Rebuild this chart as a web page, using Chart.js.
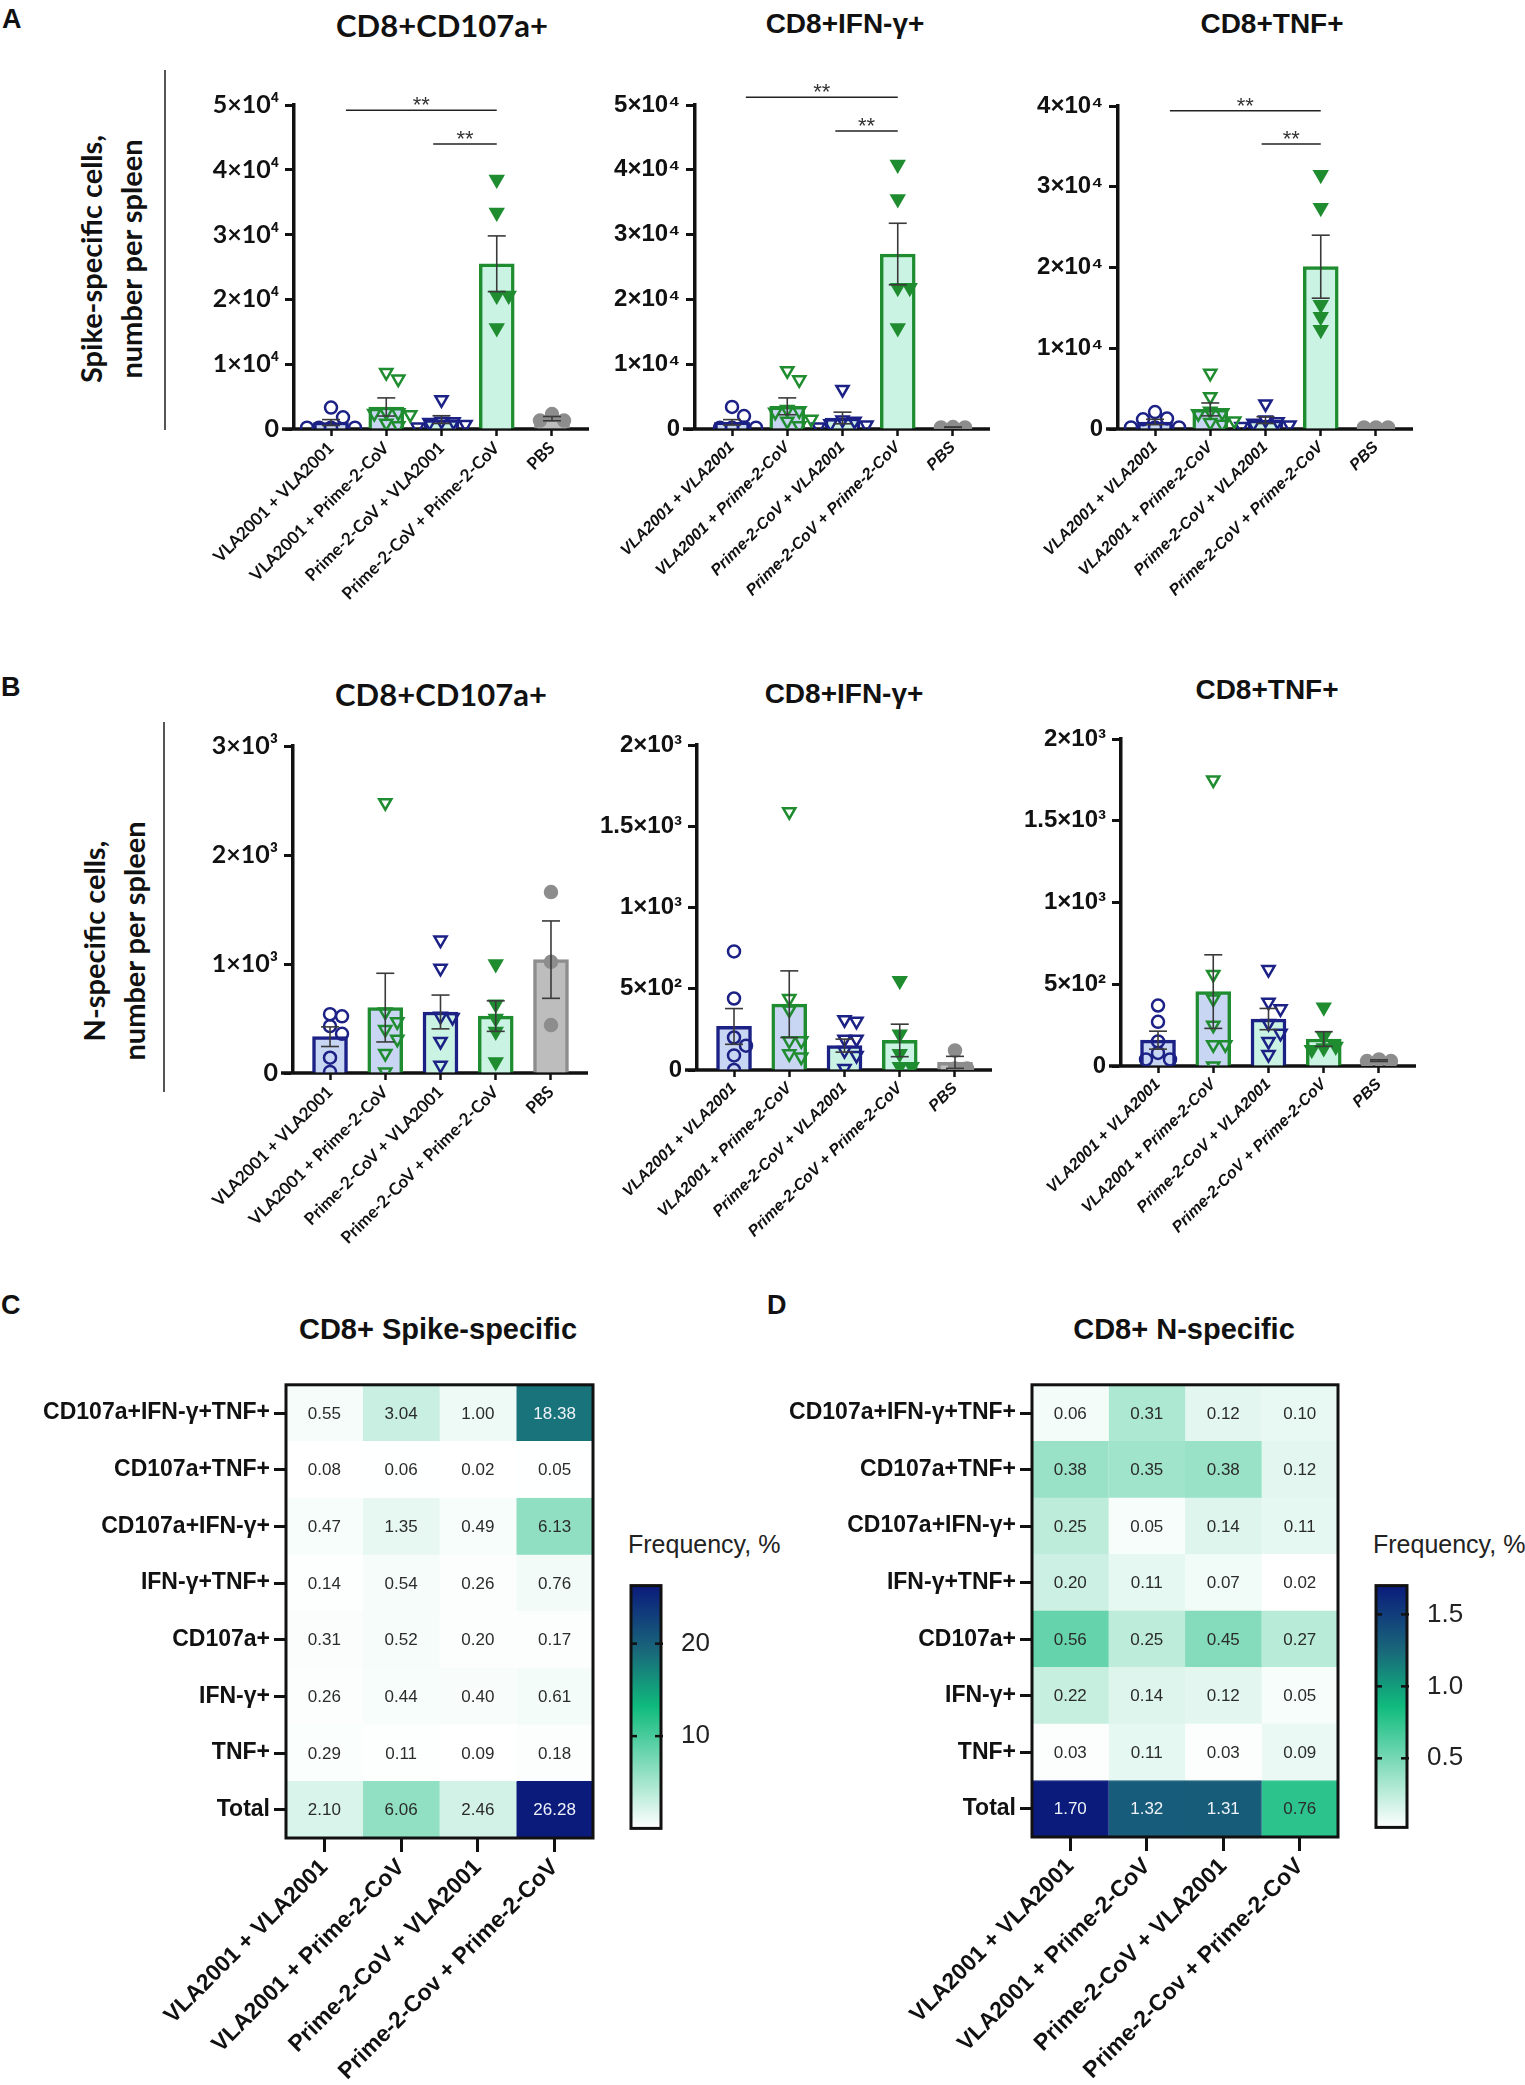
<!DOCTYPE html>
<html lang="en">
<head>
<meta charset="UTF-8">
<script src="https://cdn.jsdelivr.net/npm/chart.js"></script>
<title>CD8+ responses</title>
<style>
  body { margin: 0; background: #fff; }
  #page { position: relative; width: 1525px; height: 2085px; overflow: hidden; background: #fff; }
  canvas { position: absolute; }
  .t { position: absolute; white-space: nowrap; color: #111; }
  .letter { font: bold 27px "Liberation Sans", Arial, sans-serif; }
  .ctr { transform: translate(-50%, -50%); }
  .ytitle { transform: translate(-50%, -50%) rotate(-90deg); text-align: center;
            font: bold 29px "Lato", "Open Sans", sans-serif; line-height: 40px; }
  .sep { position: absolute; width: 1.5px; background: #555; }
</style>
</head>
<body>
<div id="page">
  <div class="t letter" style="left:2px; top:4px;">A</div>
  <div class="t letter" style="left:1px; top:672px;">B</div>
  <div class="t letter" style="left:1px; top:1290px;">C</div>
  <div class="t letter" style="left:767px; top:1290px;">D</div>

  <div class="t ytitle" style="left:111px; top:259px;">Spike-specific cells,<br>number per spleen</div>
  <div class="t ytitle" style="left:114px; top:941px;">N-specific cells,<br>number per spleen</div>
  <div class="sep" style="left:164px; top:70px; height:360px;"></div>
  <div class="sep" style="left:163px; top:722px; height:370px;"></div>

  <div class="t ctr" style="left:442px; top:25px; font:bold 31px Lato, sans-serif;">CD8+CD107a+</div>
  <div class="t ctr" style="left:845px; top:24px; font:bold 28px 'Liberation Sans', Arial, sans-serif;">CD8+IFN-γ+</div>
  <div class="t ctr" style="left:1272px; top:24px; font:bold 28px 'Liberation Sans', Arial, sans-serif;">CD8+TNF+</div>
  <div class="t ctr" style="left:441px; top:694px; font:bold 31px Lato, sans-serif;">CD8+CD107a+</div>
  <div class="t ctr" style="left:844px; top:694px; font:bold 28px 'Liberation Sans', Arial, sans-serif;">CD8+IFN-γ+</div>
  <div class="t ctr" style="left:1267px; top:690px; font:bold 28px 'Liberation Sans', Arial, sans-serif;">CD8+TNF+</div>

  <div class="t ctr" style="left:438px; top:1329px; font:bold 29px 'Liberation Sans', Arial, sans-serif;">CD8+ Spike-specific</div>
  <div class="t ctr" style="left:1184px; top:1329px; font:bold 29px 'Liberation Sans', Arial, sans-serif;">CD8+ N-specific</div>
  <div class="t" style="left:628px; top:1530px; font:25px 'Liberation Sans', Arial, sans-serif; color:#222;">Frequency, %</div>
  <div class="t" style="left:1373px; top:1530px; font:25px 'Liberation Sans', Arial, sans-serif; color:#222;">Frequency, %</div>
</div>

<script>
// ---------- data ----------
const groups = ['VLA2001 + VLA2001', 'VLA2001 + Prime-2-CoV', 'Prime-2-CoV + VLA2001', 'Prime-2-CoV + Prime-2-CoV', 'PBS'];

// A: spike-specific, number per spleen
const a1Mean = [1000, 3400, 1450, 25500, 1600];
const a1Sem  = [450, 1400, 600, 4300, 330];
const a1Pts  = [
  [3300, 1800, 200, 200, 200, 200],
  [8700, 7700, 2600, 2500, 2400, 2200, 900, 500],
  [4500, 1200, 1100, 1000, 700, 300],
  [38500, 33400, 20600, 20600, 15600],
  [2300, 1300, 1300]
];
const a1Sig = [[0.27, 3, 49200], [1.85, 3, 44000]];

const a2Mean = [1030, 3500, 1700, 27000, 270];
const a2Sem  = [420, 1300, 900, 4750, 20];
const a2Pts  = [
  [3400, 2000, 200, 200, 200, 200],
  [9000, 7600, 3000, 2800, 2600, 1500, 1200, 500],
  [6100, 1400, 1200, 800, 600, 300],
  [40800, 35500, 21800, 21800, 15600],
  [300, 250, 250]
];
const a2Sig = [[0.25, 3, 51200], [1.87, 3, 46000]];

const a3Mean = [870, 2425, 1100, 20100, 200];
const a3Sem  = [330, 800, 420, 3900, 0];
const a3Pts  = [
  [2100, 1300, 1200, 200, 200, 200],
  [6900, 4000, 2200, 2000, 1900, 1000, 800, 600],
  [3100, 1100, 900, 700, 500, 300],
  [31500, 27400, 15400, 13900, 12300],
  [200, 200, 200]
];
const a3Sig = [[0.27, 3, 39400], [1.93, 3, 35300]];

const a12TickVals = [0, 10000, 20000, 30000, 40000, 50000];
const a12TickLabels = ['0', '1×10⁴', '2×10⁴', '3×10⁴', '4×10⁴', '5×10⁴'];
const a3TickVals = [0, 10000, 20000, 30000, 40000];
const a3TickLabels = ['0', '1×10⁴', '2×10⁴', '3×10⁴', '4×10⁴'];

// B: N-specific, number per spleen
const b1Mean = [333, 600, 560, 522, 1040];
const b1Sem  = [90, 315, 155, 140, 355];
const b1Pts  = [
  [540, 520, 430, 360, 140, 10],
  [2480, 560, 470, 400, 310, 180, 10],
  [1220, 960, 520, 510, 290, 70],
  [1000, 630, 500, 380, 100],
  [1660, 1020, 440]
];

const b2Mean = [268, 405, 150, 182, 47];
const b2Sem  = [110, 205, 40, 100, 37];
const b2Pts  = [
  [730, 440, 200, 150, 90, 0],
  [1590, 440, 370, 180, 180, 100, 80],
  [310, 300, 190, 190, 120, 90, 10],
  [550, 220, 100, 20, 20],
  [120, 10, 10]
];

const b3Mean = [158, 455, 287, 165, 33];
const b3Sem  = [55, 225, 65, 45, 5];
const b3Pts  = [
  [370, 270, 150, 80, 40, 40],
  [1750, 560, 410, 250, 130, 130, 0],
  [590, 390, 350, 260, 200, 150, 70],
  [360, 180, 120, 110, 100],
  [40, 30, 30]
];

const b1TickVals = [0, 1000, 2000, 3000];
const b1TickLabels = ['0', '1×10³', '2×10³', '3×10³'];
const b23TickVals = [0, 500, 1000, 1500, 2000];
const b23TickLabels = ['0', '5×10²', '1×10³', '1.5×10³', '2×10³'];

// C / D: frequency heatmaps
const hmRows = ['CD107a+IFN-γ+TNF+', 'CD107a+TNF+', 'CD107a+IFN-γ+', 'IFN-γ+TNF+', 'CD107a+', 'IFN-γ+', 'TNF+', 'Total'];
const hmCols = ['VLA2001 + VLA2001', 'VLA2001 + Prime-2-CoV', 'Prime-2-CoV + VLA2001', 'Prime-2-Cov + Prime-2-CoV'];
const spikeFreq = [
  [0.55, 3.04, 1.00, 18.38],
  [0.08, 0.06, 0.02, 0.05],
  [0.47, 1.35, 0.49, 6.13],
  [0.14, 0.54, 0.26, 0.76],
  [0.31, 0.52, 0.20, 0.17],
  [0.26, 0.44, 0.40, 0.61],
  [0.29, 0.11, 0.09, 0.18],
  [2.10, 6.06, 2.46, 26.28]
];
const nFreq = [
  [0.06, 0.31, 0.12, 0.10],
  [0.38, 0.35, 0.38, 0.12],
  [0.25, 0.05, 0.14, 0.11],
  [0.20, 0.11, 0.07, 0.02],
  [0.56, 0.25, 0.45, 0.27],
  [0.22, 0.14, 0.12, 0.05],
  [0.03, 0.11, 0.03, 0.09],
  [1.70, 1.32, 1.31, 0.76]
];
const spikeBarTicks = [10, 20];
const spikeBarLabels = ['10', '20'];
const nBarTicks = [0.5, 1.0, 1.5];
const nBarLabels = ['0.5', '1.0', '1.5'];

// ---------- styles ----------
const navy = '#1c2186', green = '#1f8c30', gray = '#8d8d8d';
const barFill = ['#c8d6f3', '#c8d6f3', '#caf3e4', '#caf3e4', '#bdbdbd'];
const barEdge = [navy, green, navy, green, gray];
const markers = [
  { style: 'circle', rot: 0, edge: navy, fill: 'rgba(0,0,0,0)', r: 6 },
  { style: 'triangle', rot: 180, edge: green, fill: 'rgba(0,0,0,0)', r: 7 },
  { style: 'triangle', rot: 180, edge: navy, fill: 'rgba(0,0,0,0)', r: 7 },
  { style: 'triangle', rot: 180, edge: green, fill: green, r: 7 },
  { style: 'circle', rot: 0, edge: gray, fill: gray, r: 6 }
];
const latoFont = '"Lato", "Open Sans", sans-serif';
const libFont = '"Liberation Sans", Arial, sans-serif';
Chart.defaults.color = '#111';

const page = document.getElementById('page');
function addCanvas(left, top, w, h) {
  const c = document.createElement('canvas');
  c.width = w; c.height = h;
  c.style.left = left + 'px'; c.style.top = top + 'px';
  c.style.width = w + 'px'; c.style.height = h + 'px';
  page.appendChild(c);
  return c;
}

// spread points that would overlap, like a column scatter
const X_MIN = -0.67, X_MAX = 4.67, PLOT_W = 295;
function swarm(values, pxPerUnit) {
  const placed = [];
  const step = 12, diam = 11;
  values.slice().sort((a, b) => b - a).forEach(v => {
    const py = v * pxPerUnit;
    for (let k = 0; k < 30; k++) {
      const dx = k === 0 ? 0 : Math.ceil(k / 2) * step * (k % 2 ? 1 : -1);
      if (placed.every(p => Math.hypot(p.dx - dx, p.py - py) >= diam)) { placed.push({ dx, py, v }); break; }
    }
  });
  const unit = PLOT_W / (X_MAX - X_MIN);
  return placed.map(p => ({ dx: p.dx / unit, v: p.v }));
}

const extrasPlugin = {
  id: 'extras',
  beforeDatasetsDraw(chart) {
    const { ctx, chartArea, scales: { y } } = chart;
    const y0 = y.getPixelForValue(0);
    ctx.save();
    ctx.strokeStyle = '#111'; ctx.lineWidth = 3.5;
    ctx.beginPath(); ctx.moveTo(chartArea.left - 12, y0); ctx.lineTo(chartArea.right, y0); ctx.stroke();
    ctx.restore();
  },
  afterDatasetsDraw(chart, args, opts) {
    const { ctx, scales: { x, y } } = chart;
    const seg = (x1, y1, x2, y2) => { ctx.beginPath(); ctx.moveTo(x1, y1); ctx.lineTo(x2, y2); ctx.stroke(); };
    ctx.save();
    ctx.strokeStyle = '#3a3a3a'; ctx.lineWidth = 1.6;
    opts.mean.forEach((m, i) => {
      const s = opts.sem[i];
      if (!s) return;
      const px = x.getPixelForValue(i);
      const top = y.getPixelForValue(m + s), bot = y.getPixelForValue(Math.max(0, m - s));
      seg(px, top, px, bot); seg(px - 9, top, px + 9, top); seg(px - 9, bot, px + 9, bot);
    });
    ctx.strokeStyle = '#222'; ctx.lineWidth = 1.5;
    ctx.fillStyle = '#333'; ctx.font = '22px ' + libFont;
    ctx.textAlign = 'center'; ctx.textBaseline = 'alphabetic';
    (opts.sig || []).forEach(([a, b, v]) => {
      const x1 = x.getPixelForValue(a), x2 = x.getPixelForValue(b), py = y.getPixelForValue(v);
      seg(x1, py, x2, py);
      ctx.fillText('**', (x1 + x2) / 2, py + 2);
    });
    ctx.restore();
  }
};

function barChart(cfg) {
  const L = 120, T = 75, B = 200, R = 12;
  const plotH = cfg.yZero - cfg.yTop;
  const yMax = cfg.tickVals[cfg.tickVals.length - 1];
  const cv = addCanvas(cfg.x0 - L, cfg.yTop - T, L + PLOT_W + R, T + plotH + B);
  const tickFont = { family: cfg.font, size: cfg.font === latoFont ? 25 : 24, weight: 'bold' };
  const catFont = { family: cfg.font, size: cfg.font === latoFont ? 17 : 16, weight: 'bold',
                    style: cfg.font === latoFont ? 'normal' : 'italic' };

  const datasets = [{
    type: 'bar',
    data: cfg.mean.map((m, i) => ({ x: i, y: m })),
    backgroundColor: barFill, borderColor: barEdge, borderWidth: 3.5,
    barThickness: 35, order: 3
  }];
  cfg.pts.forEach((vals, i) => {
    const mk = markers[i];
    datasets.push({
      type: 'scatter',
      data: swarm(vals, plotH / yMax).map(p => ({ x: i + p.dx, y: p.v })),
      pointStyle: mk.style, rotation: mk.rot, pointRadius: mk.r,
      borderColor: mk.edge, backgroundColor: mk.fill, borderWidth: 2.5, order: 1
    });
  });

  return new Chart(cv, {
    type: 'bar',
    data: { datasets },
    options: {
      responsive: false, animation: false, devicePixelRatio: 1,
      layout: { padding: { top: T, right: R, left: 0, bottom: 0 } },
      plugins: { legend: { display: false }, tooltip: { enabled: false },
                 extras: { mean: cfg.mean, sem: cfg.sem, sig: cfg.sig } },
      scales: {
        x: {
          type: 'linear', min: X_MIN, max: X_MAX, offset: false,
          afterBuildTicks: s => { s.ticks = groups.map((g, i) => ({ value: i })); },
          afterFit: s => { s.height = B; },
          ticks: { callback: v => groups[v], minRotation: 45, maxRotation: 45, autoSkip: false,
                   font: catFont, color: '#111', padding: 2 },
          grid: { offset: false, drawOnChartArea: false, tickLength: 7, tickWidth: 2.5, tickColor: '#111' },
          border: { display: false }
        },
        y: {
          min: 0, max: yMax,
          afterBuildTicks: s => { s.ticks = cfg.tickVals.map(v => ({ value: v })); },
          afterFit: s => { s.width = L; },
          ticks: { callback: (v, i) => cfg.tickLabels[i], font: tickFont, color: '#111', padding: 6 },
          grid: { drawOnChartArea: false, tickLength: 9, tickWidth: 3, tickColor: '#111' },
          border: { display: true, width: 3.5, color: '#111' }
        }
      }
    },
    plugins: [extrasPlugin]
  });
}

barChart({ x0: 294, yTop: 105, yZero: 429, mean: a1Mean, sem: a1Sem, pts: a1Pts, sig: a1Sig,
           tickVals: a12TickVals, tickLabels: a12TickLabels, font: latoFont });
barChart({ x0: 695, yTop: 105, yZero: 429, mean: a2Mean, sem: a2Sem, pts: a2Pts, sig: a2Sig,
           tickVals: a12TickVals, tickLabels: a12TickLabels, font: libFont });
barChart({ x0: 1118, yTop: 106, yZero: 429, mean: a3Mean, sem: a3Sem, pts: a3Pts, sig: a3Sig,
           tickVals: a3TickVals, tickLabels: a3TickLabels, font: libFont });
barChart({ x0: 293, yTop: 746, yZero: 1073, mean: b1Mean, sem: b1Sem, pts: b1Pts,
           tickVals: b1TickVals, tickLabels: b1TickLabels, font: latoFont });
barChart({ x0: 697, yTop: 745, yZero: 1070, mean: b2Mean, sem: b2Sem, pts: b2Pts,
           tickVals: b23TickVals, tickLabels: b23TickLabels, font: libFont });
barChart({ x0: 1121, yTop: 739, yZero: 1066, mean: b3Mean, sem: b3Sem, pts: b3Pts,
           tickVals: b23TickVals, tickLabels: b23TickLabels, font: libFont });

// ---------- heatmaps ----------
const cmapStops = [[0, [255, 255, 255]], [0.5, [16, 187, 125]], [0.73, [25, 104, 122]], [1, [11, 27, 124]]];
function cmap(t) {
  t = Math.max(0, Math.min(1, t));
  for (let k = 1; k < cmapStops.length; k++) {
    const [t1, c1] = cmapStops[k];
    const [t0, c0] = cmapStops[k - 1];
    if (t <= t1) {
      const f = (t - t0) / (t1 - t0);
      return 'rgb(' + c0.map((c, j) => Math.round(c + (c1[j] - c) * f)).join(',') + ')';
    }
  }
}

const boxPlugin = {
  id: 'box',
  afterDraw(chart, args, opts) {
    const { ctx, chartArea: a } = chart;
    ctx.save();
    ctx.strokeStyle = '#111'; ctx.lineWidth = 3;
    ctx.strokeRect(a.left, a.top, a.right - a.left, a.bottom - a.top);
    if (opts.innerTicks) {
      const y = chart.scales.y;
      ctx.lineWidth = 2.5;
      y.ticks.forEach(t => {
        const py = y.getPixelForValue(t.value);
        ctx.beginPath(); ctx.moveTo(a.left, py); ctx.lineTo(a.left + 6, py); ctx.stroke();
        ctx.beginPath(); ctx.moveTo(a.right - 6, py); ctx.lineTo(a.right + 2, py); ctx.stroke();
      });
    }
    ctx.restore();
  }
};

const cellTextPlugin = {
  id: 'cellText',
  afterDatasetsDraw(chart, args, opts) {
    const { ctx } = chart;
    ctx.save();
    ctx.font = '17px ' + libFont;
    ctx.textAlign = 'center'; ctx.textBaseline = 'middle';
    chart.data.datasets.forEach((ds, ci) => {
      chart.getDatasetMeta(ci).data.forEach((el, ri) => {
        const v = opts.vals[ri][ci];
        const t = (v - opts.lo) / (opts.hi - opts.lo);
        ctx.fillStyle = t > 0.62 ? '#eef2f8' : '#2b2b2b';
        ctx.fillText(v.toFixed(2), (el.x + el.base) / 2, el.y + 1);
      });
    });
    ctx.restore();
  }
};

function heatmap(cfg) {
  const L = 266, T = 10, R = 12, B = 245;
  const w = cfg.right - cfg.left, h = cfg.bottom - cfg.top;
  const cv = addCanvas(cfg.left - L, cfg.top - T, L + w + R, T + h + B);
  const all = cfg.vals.flat();
  const lo = Math.min(...all), hi = Math.max(...all);
  const labelFont = { family: libFont, size: 23, weight: 'bold' };

  new Chart(cv, {
    type: 'bar',
    data: {
      labels: hmRows,
      datasets: hmCols.map((c, ci) => {
        const colors = hmRows.map((r, ri) => cmap((cfg.vals[ri][ci] - lo) / (hi - lo)));
        return { label: c, data: hmRows.map(() => 1), backgroundColor: colors, borderColor: colors,
                 borderWidth: 1, barPercentage: 1, categoryPercentage: 1 };
      })
    },
    options: {
      indexAxis: 'y', responsive: false, animation: false, devicePixelRatio: 1,
      layout: { padding: { top: T, right: R, left: 0, bottom: 0 } },
      plugins: { legend: { display: false }, tooltip: { enabled: false },
                 cellText: { vals: cfg.vals, lo, hi }, box: {} },
      scales: {
        x: {
          type: 'linear', stacked: true, min: 0, max: hmCols.length,
          afterBuildTicks: s => { s.ticks = hmCols.map((c, i) => ({ value: i + 0.5 })); },
          afterFit: s => { s.height = B; },
          ticks: { callback: v => hmCols[Math.floor(v)], minRotation: 45, maxRotation: 45, autoSkip: false,
                   font: labelFont, color: '#111', padding: 2 },
          grid: { offset: false, drawOnChartArea: false, tickLength: 14, tickWidth: 3, tickColor: '#111' },
          border: { display: false }
        },
        y: {
          stacked: true,
          afterFit: s => { s.width = L; },
          ticks: { font: labelFont, color: '#111', padding: 4 },
          grid: { offset: false, drawOnChartArea: false, tickLength: 12, tickWidth: 3, tickColor: '#111' },
          border: { display: false }
        }
      }
    },
    plugins: [cellTextPlugin, boxPlugin]
  });

  // colour scale
  const cb = cfg.bar;
  const cbv = addCanvas(cb.left - 10, cb.top - 15, 10 + cb.w + 70, 15 + cb.h + 15);
  new Chart(cbv, {
    type: 'bar',
    data: {
      labels: ['scale'],
      datasets: [{
        data: [[lo, hi]], barPercentage: 1, categoryPercentage: 1, borderWidth: 0,
        backgroundColor: c => {
          const a = c.chart.chartArea;
          if (!a) return '#fff';
          const g = c.chart.ctx.createLinearGradient(0, a.bottom, 0, a.top);
          cmapStops.forEach(([t, col]) => g.addColorStop(t, 'rgb(' + col.join(',') + ')'));
          return g;
        }
      }]
    },
    options: {
      responsive: false, animation: false, devicePixelRatio: 1,
      layout: { padding: { top: 15, bottom: 15, left: 10, right: 0 } },
      plugins: { legend: { display: false }, tooltip: { enabled: false }, box: { innerTicks: true } },
      scales: {
        x: { display: false },
        y: {
          position: 'right', min: lo, max: hi,
          afterBuildTicks: s => { s.ticks = cb.ticks.map(v => ({ value: v })); },
          afterFit: s => { s.width = 70; },
          ticks: { callback: (v, i) => cb.labels[i], font: { family: libFont, size: 26 }, color: '#222', padding: 12 },
          grid: { display: false },
          border: { display: false }
        }
      }
    },
    plugins: [boxPlugin]
  });
}

heatmap({ left: 286, right: 593, top: 1377, bottom: 1838, vals: spikeFreq,
          bar: { left: 631, top: 1573, w: 30, h: 268, ticks: spikeBarTicks, labels: spikeBarLabels } });
heatmap({ left: 1032, right: 1338, top: 1377, bottom: 1837, vals: nFreq,
          bar: { left: 1376, top: 1573, w: 31, h: 267, ticks: nBarTicks, labels: nBarLabels } });
</script>
</body>
</html>
